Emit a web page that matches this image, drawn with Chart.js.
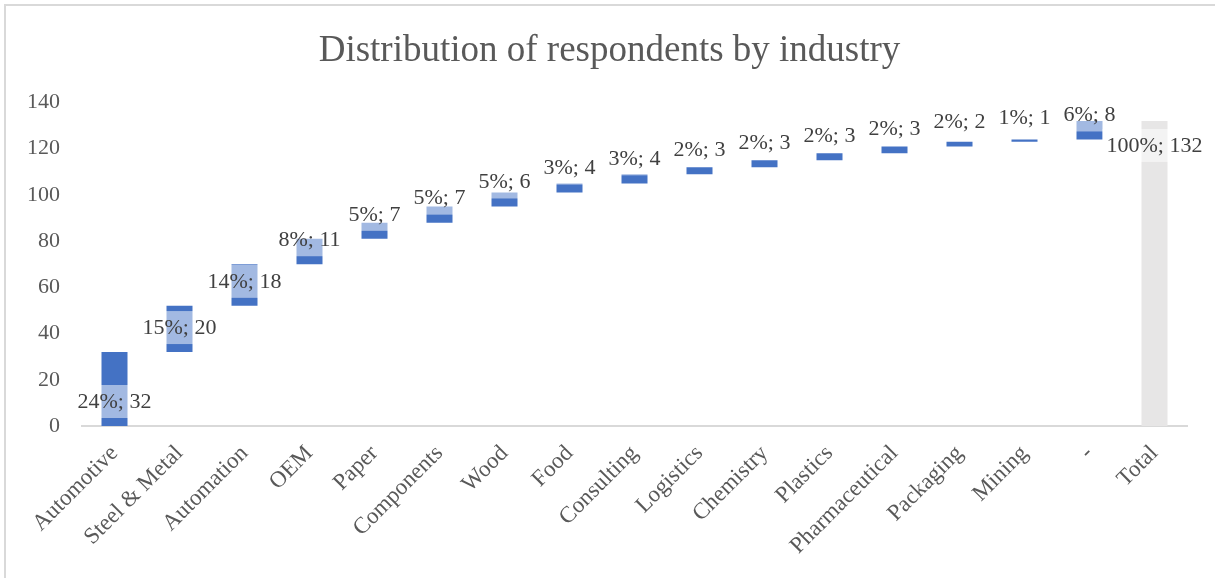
<!DOCTYPE html>
<html>
<head>
<meta charset="utf-8">
<title>Distribution of respondents by industry</title>
<script src="https://cdn.jsdelivr.net/npm/chart.js@4.4.1/dist/chart.umd.min.js"></script>
<style>
  html, body { margin: 0; padding: 0; background: #fff; }
  #wrap { width: 1215px; height: 578px; position: relative; }
</style>
</head>
<body>
<div id="wrap"><canvas id="chartIndustry" width="1215" height="578"></canvas></div>
<script>
// industries and number of respondents in each one
const industries = [
  "Automotive", "Steel & Metal", "Automation", "OEM", "Paper", "Components",
  "Wood", "Food", "Consulting", "Logistics", "Chemistry", "Plastics",
  "Pharmaceutical", "Packaging", "Mining", "-",
];
const respondents = [32, 20, 18, 11, 7, 7, 6, 4, 4, 3, 3, 3, 3, 2, 1, 8];
const totalName = "Total";
const yTicks = [0, 20, 40, 60, 80, 100, 120, 140];
const chartTitle = "Distribution of respondents by industry";

const BLUE = "#4472C4";
const GREY = "#E7E6E6";
const SERIF = '"Liberation Serif", "Times New Roman", serif';

// * #### building the waterfall steps ####
const total = respondents.reduce((a, b) => a + b, 0);
const labels = industries.concat([totalName]);
const steps = [];
let acc = 0;
for (let i = 0; i < respondents.length; i++) {
  steps.push([acc, acc + respondents[i]]);
  acc += respondents[i];
}
steps.push([0, total]);
const values = respondents.concat([total]);
const colors = industries.map(() => BLUE).concat([GREY]);

function labelText(v) {
  return Math.round((v / total) * 100) + "%; " + v;
}

// frame corner + title, centred on the whole canvas
const frame = {
  id: "frame",
  beforeDraw(chart) {
    const c = chart.ctx;
    c.save();
    c.fillStyle = "#fff";
    c.fillRect(0, 0, chart.width, chart.height);
    c.strokeStyle = "#D9D9D9";
    c.lineWidth = 2;
    c.beginPath();
    c.moveTo(5, chart.height);
    c.lineTo(5, 5);
    c.lineTo(chart.width, 5);
    c.stroke();
    c.fillStyle = "#595959";
    c.font = "37px " + SERIF;
    c.textAlign = "center";
    c.textBaseline = "alphabetic";
    c.fillText(chartTitle, chart.width / 2 + 2, 61);
    c.restore();
  },
};

// data labels with a half transparent white box, near the base of each step
const stepLabels = {
  id: "stepLabels",
  afterDatasetsDraw(chart) {
    const c = chart.ctx;
    const meta = chart.getDatasetMeta(0);
    c.save();
    c.font = "22px " + SERIF;
    c.textAlign = "center";
    c.textBaseline = "middle";
    meta.data.forEach((bar, i) => {
      const txt = labelText(values[i]);
      const w = c.measureText(txt).width + 8;
      const bottom = Math.max(bar.base, bar.y);
      const top = Math.min(bar.base, bar.y);
      let boxTop;
      if (i === meta.data.length - 1) {
        boxTop = top + 8;
      } else {
        boxTop = bottom - 41;
      }
      c.fillStyle = "rgba(255,255,255,0.5)";
      c.fillRect(bar.x - w / 2, boxTop, w, 33);
      c.fillStyle = "#404040";
      c.fillText(txt, bar.x, boxTop + 17);
    });
    c.restore();
  },
};

const ctx = document.getElementById("chartIndustry");
const chartIndustry = new Chart(ctx, {
  type: "bar",
  data: {
    labels: labels,
    datasets: [
      {
        label: "Respondents",
        data: steps,
        backgroundColor: colors,
        borderWidth: 0,
        barPercentage: 0.4,
        categoryPercentage: 1,
        borderSkipped: false,
      },
    ],
  },
  options: {
    responsive: false,
    animation: false,
    layout: { padding: { left: 0, right: 28, top: 102.5, bottom: 0 } },
    plugins: {
      legend: { display: false },
      tooltip: { enabled: false },
      title: { display: false },
    },
    scales: {
      x: {
        grid: { display: false },
        border: { display: true, color: "#D9D9D9", width: 2 },
        ticks: {
          color: "#595959",
          font: { family: SERIF, size: 23 },
          minRotation: 45,
          maxRotation: 45,
          autoSkip: false,
          padding: 6,
        },
        afterFit(scale) {
          scale.height = 152;
        },
      },
      y: {
        min: 0,
        max: 140,
        grid: { display: false },
        border: { display: false },
        afterBuildTicks(scale) {
          scale.ticks = yTicks.map((v) => ({ value: v }));
        },
        ticks: {
          color: "#595959",
          font: { family: SERIF, size: 22 },
          padding: 14,
        },
        afterFit(scale) {
          scale.width = 82;
        },
      },
    },
  },
  plugins: [frame, stepLabels],
});
</script>
</body>
</html>
